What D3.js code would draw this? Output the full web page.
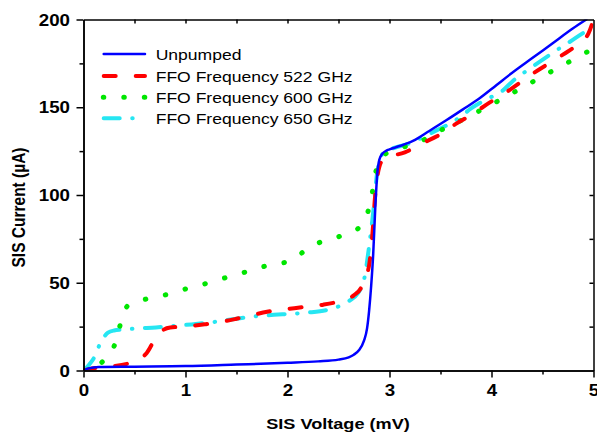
<!DOCTYPE html>
<html>
<head>
<meta charset="utf-8">
<script src="https://cdn.jsdelivr.net/npm/d3@7"></script>
<style>
  body { margin: 0; background: #fff; }
  svg { display: block; font-family: "Liberation Sans", Arial, sans-serif; }
  .axis path, .axis line { stroke: #000; stroke-width: 1.5; }
  .axis text { font-size: 16px; font-weight: bold; fill: #000; }
  .line { fill: none; stroke-linecap: round; stroke-linejoin: round; }
</style>
</head>
<body>
<div id="chart"></div>
<script>
// data
var unpumpedV = [0, 0.05, 0.15, 0.5, 1, 1.5, 2, 2.3, 2.5, 2.6, 2.65, 2.7, 2.75, 2.78, 2.8, 2.82, 2.84, 2.86, 2.88, 2.9, 2.93, 2.97, 3.0, 3.1, 3.23, 3.39, 3.56, 3.72, 3.88, 4.05, 4.2, 4.4, 4.6, 4.8, 4.93];
var unpumpedI = [0, 1.2, 2, 2.2, 2.5, 3.4, 4.4, 5.2, 6.2, 7.5, 9, 11.5, 17, 24, 34, 48, 66, 92, 112, 120, 123.5, 125.3, 126, 127.9, 130.8, 136.5, 142.7, 148.8, 155, 162.7, 169.5, 178, 186.5, 195, 200];

var f522V = [0, 0.1, 0.2, 0.3, 0.45, 0.55, 0.62, 0.7, 0.78, 0.85, 1.0, 1.2, 1.35, 1.5, 1.65, 1.8, 2.0, 2.2, 2.35, 2.5, 2.65, 2.72, 2.76, 2.8, 2.83, 2.86, 2.9, 2.95, 3.0, 3.15, 3.32, 3.47, 3.65, 3.8, 3.98, 4.13, 4.4, 4.7, 4.85, 4.95, 5.0];
var f522I = [0, 1.3, 2, 2.5, 4.2, 6.5, 10, 17.8, 23, 24.5, 25, 26.4, 27.7, 29.5, 31.5, 33.5, 35, 36.5, 37.5, 39.3, 42.8, 47, 52.7, 60, 76, 100, 116, 121, 122, 124.3, 129.5, 133.6, 140.5, 145.6, 152.6, 158, 169, 180, 186, 192, 200];

var f600V = [0, 0.1, 0.19, 0.25, 0.31, 0.36, 0.43, 0.5, 0.63, 0.83, 1.01, 1.21, 1.4, 1.6, 1.79, 1.99, 2.1, 2.18, 2.34, 2.51, 2.69, 2.75, 2.79, 2.83, 2.86, 2.93, 3.0, 3.15, 3.33, 3.52, 3.72, 3.91, 4.11, 4.31, 4.5, 4.7, 4.9, 5.0];
var f600I = [0, 1.5, 5.2, 9, 15.4, 26, 36.7, 38.5, 41, 43.5, 46.6, 49.7, 53, 56.3, 59.6, 61.9, 65, 69, 73.5, 76.4, 80.8, 85, 90.7, 101, 111.7, 121.8, 124.5, 127.5, 131.3, 137.4, 143, 148.8, 155, 161.4, 167.7, 173.8, 180.5, 183];

var f650V = [0, 0.05, 0.11, 0.16, 0.2, 0.24, 0.3, 0.385, 0.53, 0.71, 0.9, 1.1, 1.3, 1.5, 1.7, 1.95, 2.2, 2.38, 2.5, 2.6, 2.69, 2.75, 2.8, 2.84, 2.88, 2.94, 3.0, 3.2, 3.39, 3.69, 3.8, 3.95, 4.11, 4.21, 4.4, 4.6, 4.8, 4.93, 5.0];
var f650I = [0, 3, 8, 15, 19, 21.6, 22.8, 23.3, 24, 24.5, 25.5, 26.5, 27.8, 29.5, 31, 32, 33, 34.4, 36.5, 39.5, 44, 51.6, 70.7, 90, 113, 124, 125.8, 129.5, 134.8, 144.3, 149.3, 154.5, 159.5, 165, 173, 181, 188.5, 193.5, 196];

var seriesNames = ["Unpumped", "FFO Frequency 522 GHz", "FFO Frequency 600 GHz", "FFO Frequency 650 GHz"];
var xTicks = [0, 1, 2, 3, 4, 5];
var yTicks = [0, 50, 100, 150, 200];

var margin = { left: 83.5, right: 3.5, top: 19.5, bottom: 63.5 };
var width = 597 - margin.left - margin.right;
var height = 434 - margin.top - margin.bottom;
var stretch = 1.17; // the reference text is a bit wide

var styles = [
    { color: "#0000ff", w: 2.5, dash: null },
    { color: "#ff0000", w: 4, dash: "12,20" },
    { color: "#00e600", w: 5, dash: "0.5,20" },
    { color: "#26e6f2", w: 4, dash: "16,12.5,0.5,12.5" }
];

var pairs = function (vs, is) { return vs.map(function (v, i) { return [v, is[i]]; }); };
var series = [
    pairs(unpumpedV, unpumpedI),
    pairs(f522V, f522I),
    pairs(f600V, f600I),
    pairs(f650V, f650I)
];

var svg = d3.select("#chart").append("svg")
    .attr("width", 597)
    .attr("height", 434);

var g = svg.append("g")
    .attr("transform", "translate(" + margin.left + "," + margin.top + ")");

var x = d3.scaleLinear().domain([0, 5]).range([0, width]);
var y = d3.scaleLinear().domain([0, 200]).range([height, 0]);

g.append("clipPath").attr("id", "clip")
    .append("rect").attr("x", 0).attr("y", 0).attr("width", width).attr("height", height);

var line = d3.line()
    .x(function (d) { return x(d[0]); })
    .y(function (d) { return y(d[1]); })
    .curve(d3.curveMonotoneX);

// draw back to front: cyan, green, red, blue on top
[3, 2, 1, 0].forEach(function (k) {
    g.append("path")
        .datum(series[k])
        .attr("class", "line")
        .attr("clip-path", "url(#clip)")
        .attr("d", line)
        .attr("stroke", styles[k].color)
        .attr("stroke-width", styles[k].w)
        .attr("stroke-dasharray", styles[k].dash);
});

// axes: bottom / left with labels, top / right inward ticks
var xMinor = d3.range(0.5, 5, 1);
var yMinor = d3.range(25, 200, 50);

g.append("g").attr("class", "axis")
    .attr("transform", "translate(0," + height + ")")
    .call(d3.axisBottom(x).tickValues(xMinor).tickSize(4).tickSizeOuter(0).tickFormat(""));
var xAx = g.append("g").attr("class", "axis")
    .attr("transform", "translate(0," + height + ")")
    .call(d3.axisBottom(x).tickValues(xTicks).tickSize(7).tickSizeOuter(0).tickFormat(d3.format("d")));
xAx.selectAll("text").attr("y", 26).attr("dy", null).attr("transform", "scale(" + stretch + ",1)");

g.append("g").attr("class", "axis")
    .call(d3.axisLeft(y).tickValues(yMinor).tickSize(4).tickSizeOuter(0).tickFormat(""));
var yAx = g.append("g").attr("class", "axis")
    .call(d3.axisLeft(y).tickValues(yTicks).tickSize(7).tickSizeOuter(0).tickFormat(d3.format("d")));
yAx.selectAll("text").attr("x", -13.5 / stretch).attr("dy", "0.35em").attr("transform", "scale(" + stretch + ",1)");

g.append("g").attr("class", "axis")
    .call(d3.axisTop(x).tickValues(d3.range(0.5, 5, 0.5)).tickSize(-4).tickSizeOuter(0).tickFormat(""));
g.append("g").attr("class", "axis")
    .attr("transform", "translate(" + width + ",0)")
    .call(d3.axisRight(y).tickValues(d3.range(25, 200, 25)).tickSize(-4).tickSizeOuter(0).tickFormat(""));

// axis titles
svg.append("text")
    .attr("transform", "translate(338,429) scale(" + stretch + ",1)")
    .style("text-anchor", "middle")
    .style("font-size", "15.5px")
    .style("font-weight", "bold")
    .text("SIS Voltage (mV)");

svg.append("text")
    .attr("transform", "translate(25,207.5) scale(" + stretch + ",1) rotate(-90)")
    .style("text-anchor", "middle")
    .style("font-size", "15.5px")
    .style("font-weight", "bold")
    .text("SIS Current (\u00b5A)");

// legend
var legendY = [54, 76, 97.3, 118.3];
var legend = svg.append("g");
seriesNames.forEach(function (name, k) {
    legend.append("line")
        .attr("class", "line")
        .attr("x1", k === 2 ? 103.3 : 103.7).attr("x2", 145)
        .attr("y1", legendY[k]).attr("y2", legendY[k])
        .attr("stroke", styles[k].color)
        .attr("stroke-width", styles[k].w)
        .attr("stroke-dasharray", styles[k].dash);
    legend.append("text")
        .attr("transform", "translate(155.7," + (legendY[k] + 5.5) + ") scale(" + stretch + ",1)")
        .style("font-size", "15px")
        .text(name);
});
</script>
</body>
</html>
